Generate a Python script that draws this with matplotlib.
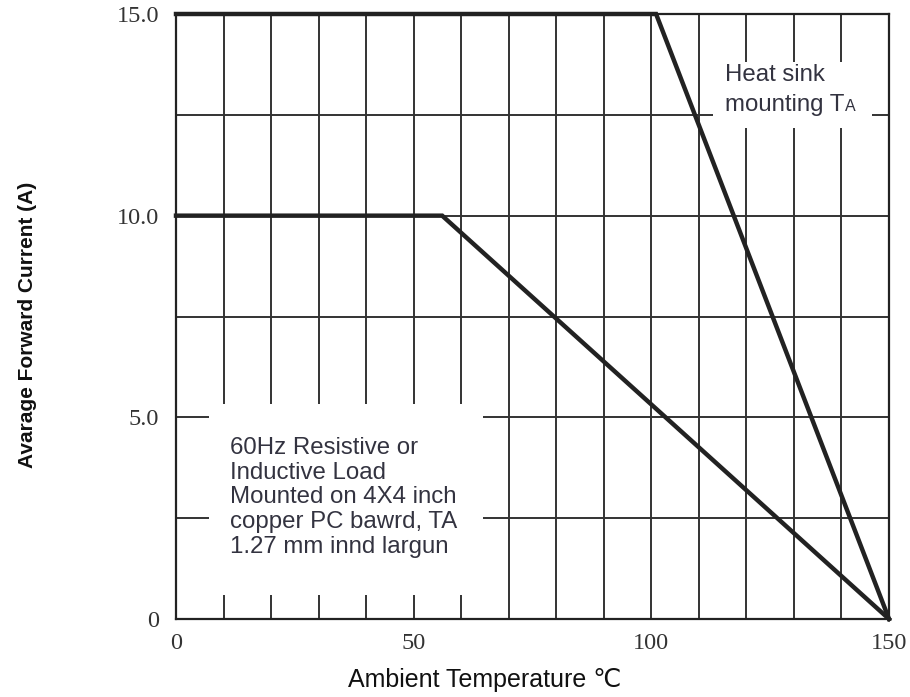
import matplotlib
matplotlib.use("Agg")
import matplotlib.pyplot as plt
from matplotlib.patches import Rectangle

# ---- data ----
heat_sink_x = [0, 101, 150]
heat_sink_y = [15.0, 15.0, 0.0]
pcb_x = [0, 56, 150]
pcb_y = [10.0, 10.0, 0.0]

x_grid = list(range(0, 151, 10))
x_tick_labels = [str(v) if v % 50 == 0 else "" for v in x_grid]
y_grid = [0, 2.5, 5.0, 7.5, 10.0, 12.5, 15.0]
y_tick_labels = ["0", "", "5.0", "", "10.0", "", "15.0"]

x_label = "Ambient Temperature \u2103"
y_label = "Avarage Forward Current (A)"
note_low = "60Hz Resistive or\nInductive Load\nMounted on 4X4 inch\ncopper PC bawrd, TA\n1.27 mm innd largun"
note_high_1 = "Heat sink"
note_high_2 = "mounting T"
note_high_sub = "A"

W, H = 910, 697
fig = plt.figure(figsize=(W / 100, H / 100), dpi=100)
L, R, T, B = 176, 889, 14, 619
ax = fig.add_axes([L / W, 1 - B / H, (R - L) / W, (B - T) / H])
ax.set_xlim(0, 150)
ax.set_ylim(0, 15)

grid_col = "#333333"
ax.set_xticks(x_grid)
ax.set_xticklabels(x_tick_labels, fontfamily="Liberation Serif", fontsize=17.5, color="#333333")
ax.set_yticks(y_grid)
ax.set_yticklabels(y_tick_labels, fontfamily="Liberation Serif", fontsize=17.5, color="#333333")
ax.tick_params(length=0, pad=12)
ax.tick_params(axis="x", pad=10)
ax.grid(True, color=grid_col, linewidth=1.4, zorder=1)
ax.set_axisbelow(True)
for s in ax.spines.values():
    s.set_color("#222222")
    s.set_linewidth(1.6)

# white boxes behind annotations
ax.add_patch(Rectangle((113, 12.17), 146.4 - 113, 13.81 - 12.17, facecolor="white",
                       edgecolor="none", zorder=2))
ax.add_patch(Rectangle((6.9, 0.6), 64.6 - 6.9, 5.33 - 0.6, facecolor="white",
                       edgecolor="none", zorder=2))

ax.plot(heat_sink_x, heat_sink_y, color="#222222", linewidth=3.2, zorder=4,
        solid_joinstyle="miter", clip_on=False)
ax.plot(pcb_x, pcb_y, color="#222222", linewidth=3.2, zorder=4,
        solid_joinstyle="miter", clip_on=False)

txt_col = "#333340"
sans = ["Liberation Sans", "DejaVu Sans"]
ax.text(11.4, 4.52, note_low, fontfamily=sans, fontsize=17.3, color=txt_col,
        va="top", ha="left", linespacing=1.17, zorder=5)
ax.text(115.5, 13.76, note_high_1, fontfamily=sans, fontsize=17.3, color=txt_col,
        va="top", ha="left", zorder=5)
t2 = ax.text(115.5, 12.6, note_high_2, fontfamily=sans, fontsize=17.3, color=txt_col,
             va="baseline", ha="left", zorder=5)
fig.canvas.draw()
bb = t2.get_window_extent()
xd, _ = ax.transData.inverted().transform((bb.x1 + 1, bb.y0))
ax.text(xd, 12.6, note_high_sub, fontfamily=sans, fontsize=11.5, color=txt_col,
        va="baseline", ha="left", zorder=5)

fig.text(485 / W, 1 - 680 / H, x_label, fontfamily=sans,
         fontsize=18, color="#111111", ha="center", va="center")
fig.text(28 / W, 1 - 325 / H, y_label, fontfamily=sans, fontweight="bold",
         fontsize=15, color="#111111", ha="center", va="center", rotation=90)

fig.savefig("out.png", dpi=100, facecolor="white")
